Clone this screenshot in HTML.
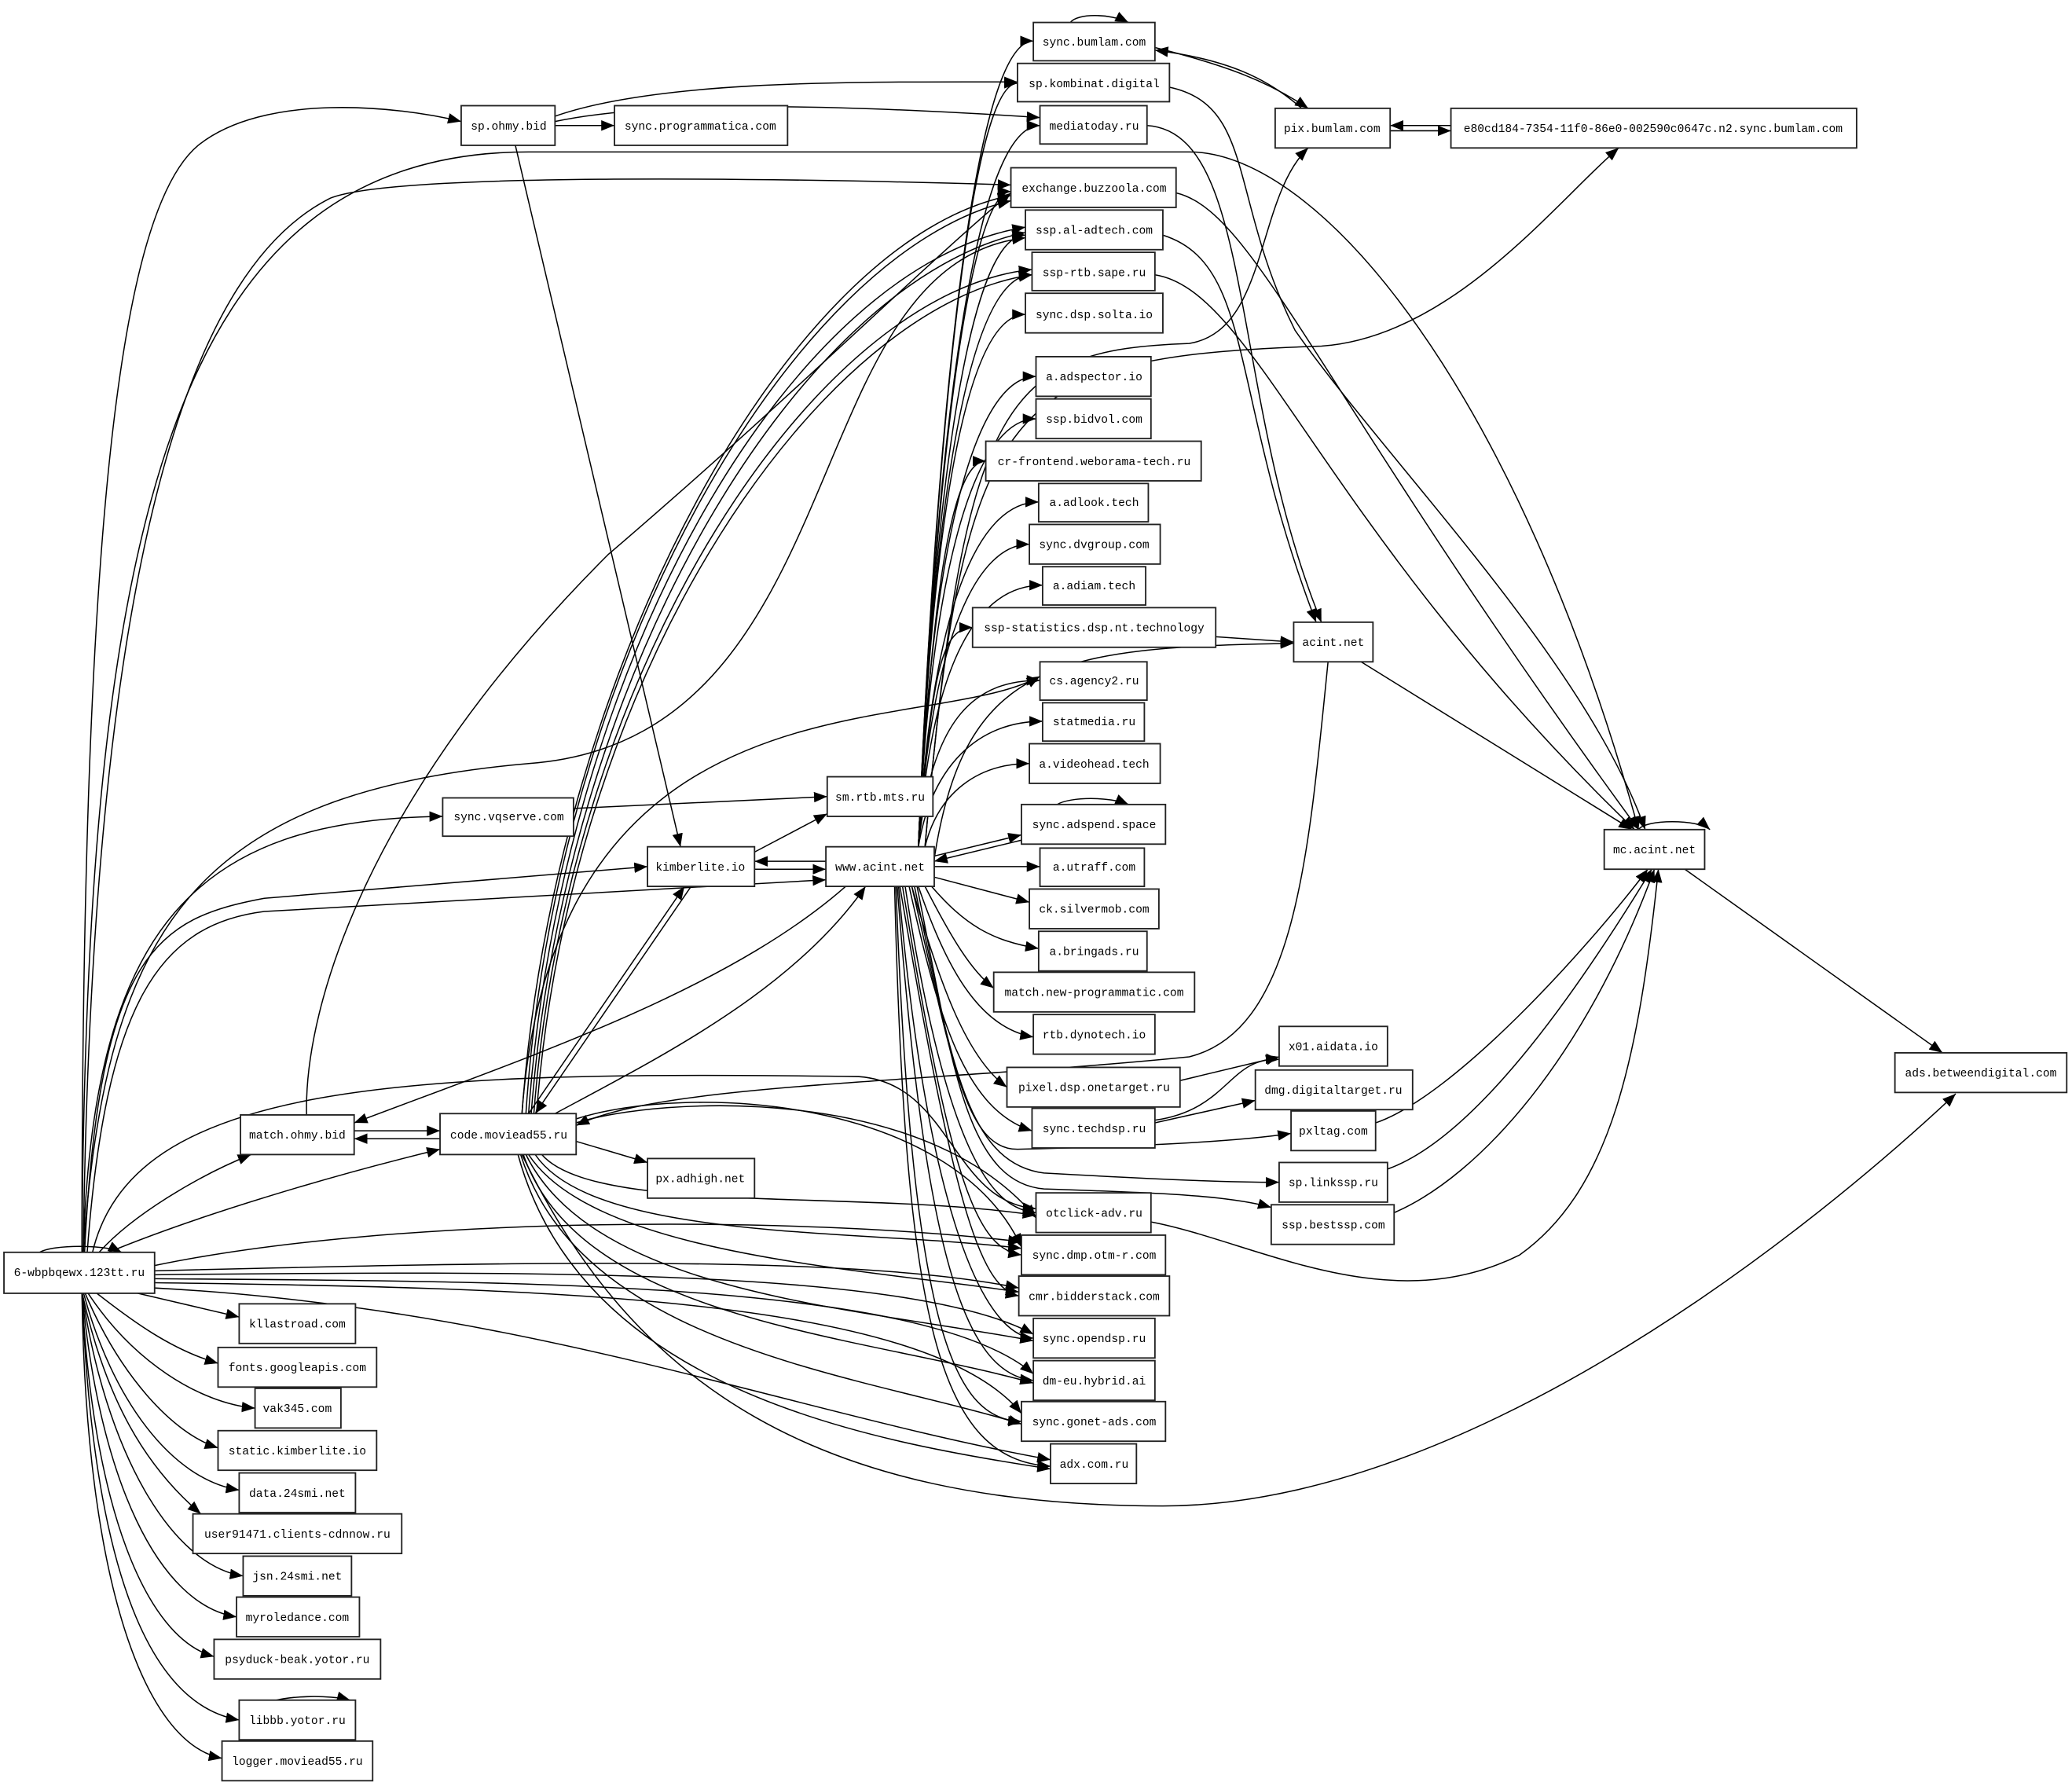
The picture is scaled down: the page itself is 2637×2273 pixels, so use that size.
<!DOCTYPE html>
<html><head><meta charset="utf-8"><style>
html,body{margin:0;padding:0;background:#fff;}
svg{display:block;}
text{font-family:"Liberation Mono",monospace;font-size:8.7px;fill:#000;}
rect{fill:#fff;stroke:#222;stroke-width:1.1;}
path{fill:none;stroke:#000;stroke-width:0.9;}
</style></head><body>
<svg width="2637" height="2273" viewBox="0 0 1568 1352" preserveAspectRatio="none" xmlns="http://www.w3.org/2000/svg">
<defs><marker id="a" markerUnits="userSpaceOnUse" markerWidth="10" markerHeight="8" refX="10" refY="4" orient="auto"><path d="M0,0 L10,4 L0,8 Z" style="fill:#000;stroke:none"/></marker></defs>
<rect x="0" y="0" width="1568" height="1352" style="fill:#fff;stroke:none"/>
<g marker-end="url(#a)">
<!-- from 6-wbp -->
<path d="M100,978 C130,985 160,992 181,997"/>
<path d="M72,978 C100,1000 130,1022 165,1032"/>
<path d="M66,978 C100,1030 150,1062 193,1066"/>
<path d="M64,978 C90,1040 130,1085 165,1096"/>
<path d="M63,978 C85,1060 130,1120 181,1128"/>
<path d="M62,978 C80,1060 110,1110 152,1146"/>
<path d="M62,978 C80,1100 130,1185 184,1193"/>
<path d="M62,978 C75,1120 120,1215 179,1224"/>
<path d="M62,978 C70,1140 110,1240 162,1254"/>
<path d="M62,978 C70,1180 110,1290 181,1302"/>
<path d="M62,978 C65,1200 110,1320 168,1331"/>
<path d="M30,948 C40,942 80,942 92,948"/>
<path d="M75,948 C100,920 150,890 190,874"/>
<path d="M82,948 C150,920 250,890 333,870"/>
<path d="M66,948 C80,760 120,700 200,690 L625,666"/>
<path d="M64,948 C75,720 120,695 200,680 L490,656"/>
<path d="M63,948 C70,700 150,620 335,618"/>
<path d="M62,948 C62,400 90,160 150,110 C200,70 300,80 349,92"/>
<path d="M63,948 C70,400 150,200 250,150 C300,130 600,135 765,140"/>
<path d="M62,948 C65,400 130,115 400,115 L900,115 C1000,115 1150,300 1240,628"/>
<path d="M63,948 C80,700 150,600 400,578 C650,560 600,200 776,180"/>
<path d="M70,948 C100,820 300,810 650,815 C720,820 720,910 784,915"/>
<path d="M117,958 C300,920 600,920 773,940"/>
<path d="M117,962 C400,955 650,950 771,975"/>
<path d="M117,965 C400,962 690,960 782,1010"/>
<path d="M117,968 C400,970 700,970 782,1040"/>
<path d="M117,971 C400,975 700,980 773,1070"/>
<path d="M117,975 C400,990 600,1070 795,1105"/>
<!-- www.acint.net upper -->
<path d="M695,641 C705,400 730,31 782,31"/>
<path d="M695,641 C705,400 730,63 770,63"/>
<path d="M695,641 C705,400 730,95 787,95"/>
<path d="M695,641 C705,400 730,145 765,145"/>
<path d="M695,641 C705,400 730,178 776,178"/>
<path d="M695,641 C705,400 730,208 781,208"/>
<path d="M695,641 C705,400 730,238 776,238"/>
<path d="M695,641 C705,400 740,285 784,285"/>
<path d="M695,641 C705,420 740,317 784,317"/>
<path d="M695,641 C705,450 720,349 746,349"/>
<path d="M695,641 C705,460 740,380 786,380"/>
<path d="M695,641 C705,480 740,412 779,412"/>
<path d="M695,641 C705,500 740,443 789,443"/>
<path d="M695,641 C705,520 710,475 736,475"/>
<path d="M695,641 C705,540 740,515 787,515"/>
<path d="M695,641 C705,580 740,546 789,546"/>
<path d="M700,641 C710,600 740,578 779,578"/>
<path d="M707,648 L773,632"/>
<path d="M773,636 L707,652"/>
<path d="M700,641 C730,300 760,265 900,260 C960,250 950,150 990,112"/>
<path d="M700,641 C730,300 760,270 1000,262 C1100,255 1180,150 1225,112"/>
<path d="M707,650 C730,500 800,490 979,487"/>
<!-- www lower -->
<path d="M707,656 L787,656"/>
<path d="M707,664 L779,683"/>
<path d="M705,671 C730,700 750,712 786,718"/>
<path d="M700,671 C720,710 735,735 752,748"/>
<path d="M695,671 C715,730 740,778 782,785"/>
<path d="M690,671 C710,740 730,800 762,823"/>
<path d="M688,671 C710,770 730,840 781,856"/>
<path d="M685,671 C720,900 760,915 784,918"/>
<path d="M683,671 C720,900 740,945 773,950"/>
<path d="M681,671 C720,900 740,975 771,981"/>
<path d="M680,671 C700,900 740,1010 782,1013"/>
<path d="M679,671 C700,950 730,1040 782,1045"/>
<path d="M678,671 C690,1000 720,1075 773,1076"/>
<path d="M677,671 C685,1000 710,1105 795,1110"/>
<path d="M690,671 C720,800 730,870 770,870 C850,868 930,865 977,858"/>
<path d="M692,671 C720,800 730,880 790,888 C880,893 930,895 968,895"/>
<path d="M694,671 C720,800 730,895 790,900 C880,903 930,905 962,914"/>
<path d="M640,671 C550,750 400,800 268,850"/>
<path d="M625,652 L571,652"/>
<path d="M571,658 L625,658"/>
<!-- code.moviead55 -->
<path d="M420,843 C500,800 600,750 655,671"/>
<path d="M395,843 C420,500 600,180 765,148"/>
<path d="M398,843 C420,500 600,190 765,152"/>
<path d="M400,843 C425,500 600,200 776,172"/>
<path d="M402,843 C428,500 610,210 776,176"/>
<path d="M404,843 C430,500 620,220 781,204"/>
<path d="M406,843 C432,500 625,230 781,208"/>
<path d="M395,843 C420,500 700,560 787,512"/>
<path d="M400,843 L518,671"/>
<path d="M523,671 L405,843"/>
<path d="M436,864 L490,880"/>
<path d="M336,862 L268,862"/>
<path d="M268,856 L333,856"/>
<path d="M410,874 C450,920 650,900 784,920"/>
<path d="M405,874 C450,940 650,930 773,945"/>
<path d="M400,874 C450,950 650,960 771,978"/>
<path d="M398,874 C450,980 650,990 782,1015"/>
<path d="M396,874 C440,1000 650,1010 782,1047"/>
<path d="M394,874 C440,1020 650,1040 773,1078"/>
<path d="M392,874 C440,1050 650,1090 795,1112"/>
<path d="M395,874 C480,1050 620,1140 880,1140 C1100,1140 1350,950 1480,828"/>
<path d="M436,850 C500,830 700,820 784,922"/>
<path d="M436,847 C520,820 720,830 773,944"/>
<!-- misc -->
<path d="M420,95 L465,95"/>
<path d="M420,88 C500,60 650,62 770,62"/>
<path d="M420,92 C500,75 650,80 787,89"/>
<path d="M390,110 L515,641"/>
<path d="M232,844 C230,760 280,600 460,420 C600,300 700,200 765,146"/>
<path d="M434,612 L626,603"/>
<path d="M571,645 L626,616"/>
<path d="M810,17 C815,10 840,10 854,17"/>
<path d="M800,609 C810,603 840,603 854,609"/>
<path d="M874,36 C930,50 960,62 990,82"/>
<path d="M985,82 C960,60 930,45 874,38"/>
<path d="M1098,95 L1052,95"/>
<path d="M1052,99 L1098,99"/>
<path d="M885,66 C950,80 930,150 980,250 C1050,350 1200,500 1245,628"/>
<path d="M868,95 C950,100 930,300 1000,471"/>
<path d="M890,146 C950,160 1000,300 1240,628"/>
<path d="M880,178 C950,200 930,300 996,471"/>
<path d="M874,208 C950,220 1000,400 1237,628"/>
<path d="M920,482 L979,486"/>
<path d="M1030,501 L1235,628"/>
<path d="M1005,501 C990,650 980,780 900,800 C700,820 500,820 436,852"/>
<path d="M1275,658 L1470,797"/>
<path d="M1240,628 C1245,620 1285,620 1294,628"/>
<path d="M893,818 L968,800"/>
<path d="M874,848 C930,840 930,800 968,802"/>
<path d="M874,850 L950,833"/>
<path d="M1041,850 C1100,830 1200,720 1247,658"/>
<path d="M1050,885 C1120,860 1200,740 1250,658"/>
<path d="M1055,918 C1120,890 1200,800 1252,658"/>
<path d="M871,925 C950,940 1050,1000 1150,950 C1220,900 1240,800 1255,658"/>
<path d="M200,1290 C215,1283 250,1283 265,1287"/>
</g>
<!-- nodes -->
<g>
<rect x="782" y="17" width="92" height="29"/><text x="828" y="34.5" text-anchor="middle">sync.bumlam.com</text>
<rect x="770" y="48" width="115" height="29"/><text x="828" y="66" text-anchor="middle">sp.kombinat.digital</text>
<rect x="787" y="80" width="81" height="29"/><text x="828" y="98" text-anchor="middle">mediatoday.ru</text>
<rect x="765" y="127" width="125" height="30"/><text x="828" y="145" text-anchor="middle">exchange.buzzoola.com</text>
<rect x="776" y="159" width="104" height="30"/><text x="828" y="177" text-anchor="middle">ssp.al-adtech.com</text>
<rect x="781" y="191" width="93" height="29"/><text x="828" y="209" text-anchor="middle">ssp-rtb.sape.ru</text>
<rect x="776" y="222" width="104" height="30"/><text x="828" y="241" text-anchor="middle">sync.dsp.solta.io</text>
<rect x="784" y="270" width="87" height="30"/><text x="828" y="288" text-anchor="middle">a.adspector.io</text>
<rect x="784" y="302" width="87" height="30"/><text x="828" y="320" text-anchor="middle">ssp.bidvol.com</text>
<rect x="746" y="334" width="163" height="30"/><text x="828" y="352" text-anchor="middle">cr-frontend.weborama-tech.ru</text>
<rect x="786" y="366" width="83" height="29"/><text x="828" y="383" text-anchor="middle">a.adlook.tech</text>
<rect x="779" y="397" width="99" height="30"/><text x="828" y="415" text-anchor="middle">sync.dvgroup.com</text>
<rect x="789" y="429" width="78" height="29"/><text x="828" y="446" text-anchor="middle">a.adiam.tech</text>
<rect x="736" y="460" width="184" height="30"/><text x="828" y="478" text-anchor="middle">ssp-statistics.dsp.nt.technology</text>
<rect x="787" y="501" width="81" height="29"/><text x="828" y="518" text-anchor="middle">cs.agency2.ru</text>
<rect x="789" y="532" width="77" height="29"/><text x="828" y="549" text-anchor="middle">statmedia.ru</text>
<rect x="779" y="563" width="99" height="30"/><text x="828" y="581" text-anchor="middle">a.videohead.tech</text>
<rect x="773" y="609" width="109" height="30"/><text x="828" y="627" text-anchor="middle">sync.adspend.space</text>
<rect x="787" y="642" width="79" height="29"/><text x="828" y="659" text-anchor="middle">a.utraff.com</text>
<rect x="779" y="673" width="98" height="30"/><text x="828" y="691" text-anchor="middle">ck.silvermob.com</text>
<rect x="786" y="705" width="82" height="30"/><text x="828" y="723" text-anchor="middle">a.bringads.ru</text>
<rect x="752" y="736" width="152" height="30"/><text x="828" y="754" text-anchor="middle">match.new-programmatic.com</text>
<rect x="782" y="768" width="92" height="30"/><text x="828" y="786" text-anchor="middle">rtb.dynotech.io</text>
<rect x="762" y="808" width="131" height="30"/><text x="828" y="826" text-anchor="middle">pixel.dsp.onetarget.ru</text>
<rect x="781" y="839" width="93" height="30"/><text x="828" y="857" text-anchor="middle">sync.techdsp.ru</text>
<rect x="784" y="903" width="87" height="30"/><text x="828" y="921" text-anchor="middle">otclick-adv.ru</text>
<rect x="773" y="935" width="109" height="30"/><text x="828" y="953" text-anchor="middle">sync.dmp.otm-r.com</text>
<rect x="771" y="966" width="114" height="30"/><text x="828" y="984" text-anchor="middle">cmr.bidderstack.com</text>
<rect x="782" y="998" width="92" height="30"/><text x="828" y="1016" text-anchor="middle">sync.opendsp.ru</text>
<rect x="782" y="1030" width="92" height="30"/><text x="828" y="1048" text-anchor="middle">dm-eu.hybrid.ai</text>
<rect x="773" y="1061" width="109" height="30"/><text x="828" y="1079" text-anchor="middle">sync.gonet-ads.com</text>
<rect x="795" y="1093" width="65" height="30"/><text x="828" y="1111" text-anchor="middle">adx.com.ru</text>
<rect x="965" y="82" width="87" height="30"/><text x="1008" y="100" text-anchor="middle">pix.bumlam.com</text>
<rect x="1098" y="82" width="307" height="30"/><text x="1251" y="100" text-anchor="middle">e80cd184-7354-11f0-86e0-002590c0647c.n2.sync.bumlam.com</text>
<rect x="979" y="471" width="60" height="30"/><text x="1009" y="489" text-anchor="middle">acint.net</text>
<rect x="1214" y="628" width="76" height="30"/><text x="1252" y="646" text-anchor="middle">mc.acint.net</text>
<rect x="1434" y="797" width="130" height="30"/><text x="1499" y="815" text-anchor="middle">ads.betweendigital.com</text>
<rect x="968" y="777" width="82" height="30"/><text x="1009" y="795" text-anchor="middle">x01.aidata.io</text>
<rect x="950" y="810" width="119" height="30"/><text x="1009" y="828" text-anchor="middle">dmg.digitaltarget.ru</text>
<rect x="977" y="841" width="64" height="30"/><text x="1009" y="859" text-anchor="middle">pxltag.com</text>
<rect x="968" y="880" width="82" height="30"/><text x="1009" y="898" text-anchor="middle">sp.linkssp.ru</text>
<rect x="962" y="912" width="93" height="30"/><text x="1009" y="930" text-anchor="middle">ssp.bestssp.com</text>
<rect x="349" y="80" width="71" height="30"/><text x="385" y="98" text-anchor="middle">sp.ohmy.bid</text>
<rect x="465" y="80" width="131" height="30"/><text x="530" y="98" text-anchor="middle">sync.programmatica.com</text>
<rect x="335" y="604" width="99" height="29"/><text x="385" y="621" text-anchor="middle">sync.vqserve.com</text>
<rect x="490" y="641" width="81" height="30"/><text x="530" y="659" text-anchor="middle">kimberlite.io</text>
<rect x="626" y="588" width="80" height="30"/><text x="666" y="606" text-anchor="middle">sm.rtb.mts.ru</text>
<rect x="625" y="641" width="82" height="30"/><text x="666" y="659" text-anchor="middle">www.acint.net</text>
<rect x="182" y="844" width="86" height="30"/><text x="225" y="862" text-anchor="middle">match.ohmy.bid</text>
<rect x="333" y="843" width="103" height="31"/><text x="385" y="862" text-anchor="middle">code.moviead55.ru</text>
<rect x="490" y="877" width="81" height="30"/><text x="530" y="895" text-anchor="middle">px.adhigh.net</text>
<rect x="3" y="948" width="114" height="31"/><text x="60" y="966" text-anchor="middle">6-wbpbqewx.123tt.ru</text>
<rect x="181" y="987" width="88" height="30"/><text x="225" y="1005" text-anchor="middle">kllastroad.com</text>
<rect x="165" y="1020" width="120" height="30"/><text x="225" y="1038" text-anchor="middle">fonts.googleapis.com</text>
<rect x="193" y="1051" width="65" height="30"/><text x="225" y="1069" text-anchor="middle">vak345.com</text>
<rect x="165" y="1083" width="120" height="30"/><text x="225" y="1101" text-anchor="middle">static.kimberlite.io</text>
<rect x="181" y="1115" width="88" height="30"/><text x="225" y="1133" text-anchor="middle">data.24smi.net</text>
<rect x="146" y="1146" width="158" height="30"/><text x="225" y="1164" text-anchor="middle">user91471.clients-cdnnow.ru</text>
<rect x="184" y="1178" width="82" height="30"/><text x="225" y="1196" text-anchor="middle">jsn.24smi.net</text>
<rect x="179" y="1209" width="93" height="30"/><text x="225" y="1227" text-anchor="middle">myroledance.com</text>
<rect x="162" y="1241" width="126" height="30"/><text x="225" y="1259" text-anchor="middle">psyduck-beak.yotor.ru</text>
<rect x="181" y="1287" width="88" height="30"/><text x="225" y="1305" text-anchor="middle">libbb.yotor.ru</text>
<rect x="168" y="1318" width="114" height="30"/><text x="225" y="1336" text-anchor="middle">logger.moviead55.ru</text>
</g>
</svg>
</body></html>
